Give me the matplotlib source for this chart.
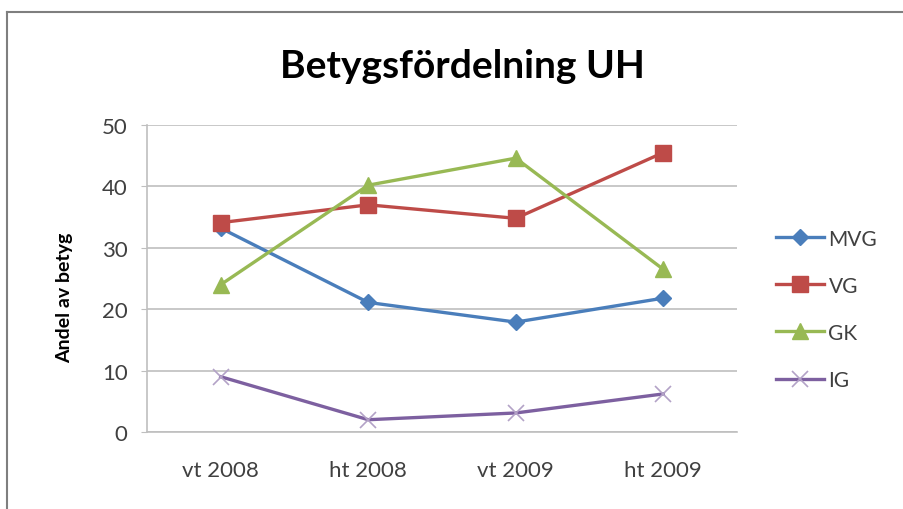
import matplotlib.pyplot as plt
from matplotlib.lines import Line2D

# Data
kategorier = ["vt 2008", "ht 2008", "vt 2009", "ht 2009"]
mvg = [33.2, 21.1, 17.9, 21.8]
vg = [34.1, 37.0, 34.8, 45.5]
gk = [24.0, 40.2, 44.6, 26.5]
ig = [9.0, 2.0, 3.1, 6.2]

plt.rcParams['font.family'] = ['Lato', 'DejaVu Sans']

fig = plt.figure(figsize=(9.04, 5.10), dpi=100)
fig.patch.set_facecolor('white')

# Ram runt diagrammet (bara vänster och överkant syns)
ytop = 1 - 13 / 510
xleft = 7 / 904
fig.lines.append(Line2D([xleft, xleft], [0, ytop], transform=fig.transFigure,
                        color='#7f7f7f', lw=1.5))
fig.lines.append(Line2D([xleft, 1], [ytop, ytop], transform=fig.transFigure,
                        color='#7f7f7f', lw=1.5))

ax = fig.add_axes([147 / 904, 77 / 510, 590 / 904, 307 / 510])

x = [i + 0.5 for i in range(len(kategorier))]
ax.plot(x, mvg, color='#4A7EBB', lw=2.4, marker='D', ms=8, label='MVG', zorder=3)
ax.plot(x, vg, color='#BE4B48', lw=2.4, marker='s', ms=11, label='VG', zorder=3)
ax.plot(x, gk, color='#98B954', lw=2.4, marker='^', ms=11, label='GK', zorder=3)
ax.plot(x, ig, color='#7D60A0', lw=2.4, marker='x', ms=11, mew=1.2,
        mec='#B3A2C7', label='IG', zorder=3)

ax.set_xlim(0, 4)
ax.set_ylim(0, 50)
ax.set_xticks(x)
ax.set_xticklabels(kategorier)
ax.set_yticks(range(0, 51, 10))
ax.grid(axis='y', color='#BFBFBF', linewidth=1.2)
ax.set_axisbelow(True)

for s in ['top', 'right']:
    ax.spines[s].set_visible(False)
for s in ['left', 'bottom']:
    ax.spines[s].set_color('#BFBFBF')
    ax.spines[s].set_linewidth(1.2)

ax.tick_params(axis='x', length=0, labelsize=16, colors='#404040', pad=20)
ax.tick_params(axis='y', length=4, color='#BFBFBF', labelsize=16, colors='#404040', pad=10)

ax.set_ylabel("Andel av betyg", fontsize=14, fontweight='bold')
ax.yaxis.set_label_coords(-0.125, 0.44)

fig.text(462 / 904, 1 - 66 / 510, "Betygsfördelning UH", ha='center', va='center',
         fontsize=28, fontweight='bold')

leg = ax.legend(loc='center left', bbox_to_anchor=(1.035, 0.40), frameon=False,
                fontsize=15, handlelength=2.3, handletextpad=0.2, labelspacing=1.3)
for t in leg.get_texts():
    t.set_color('#404040')

fig.savefig("out.png", dpi=100)
